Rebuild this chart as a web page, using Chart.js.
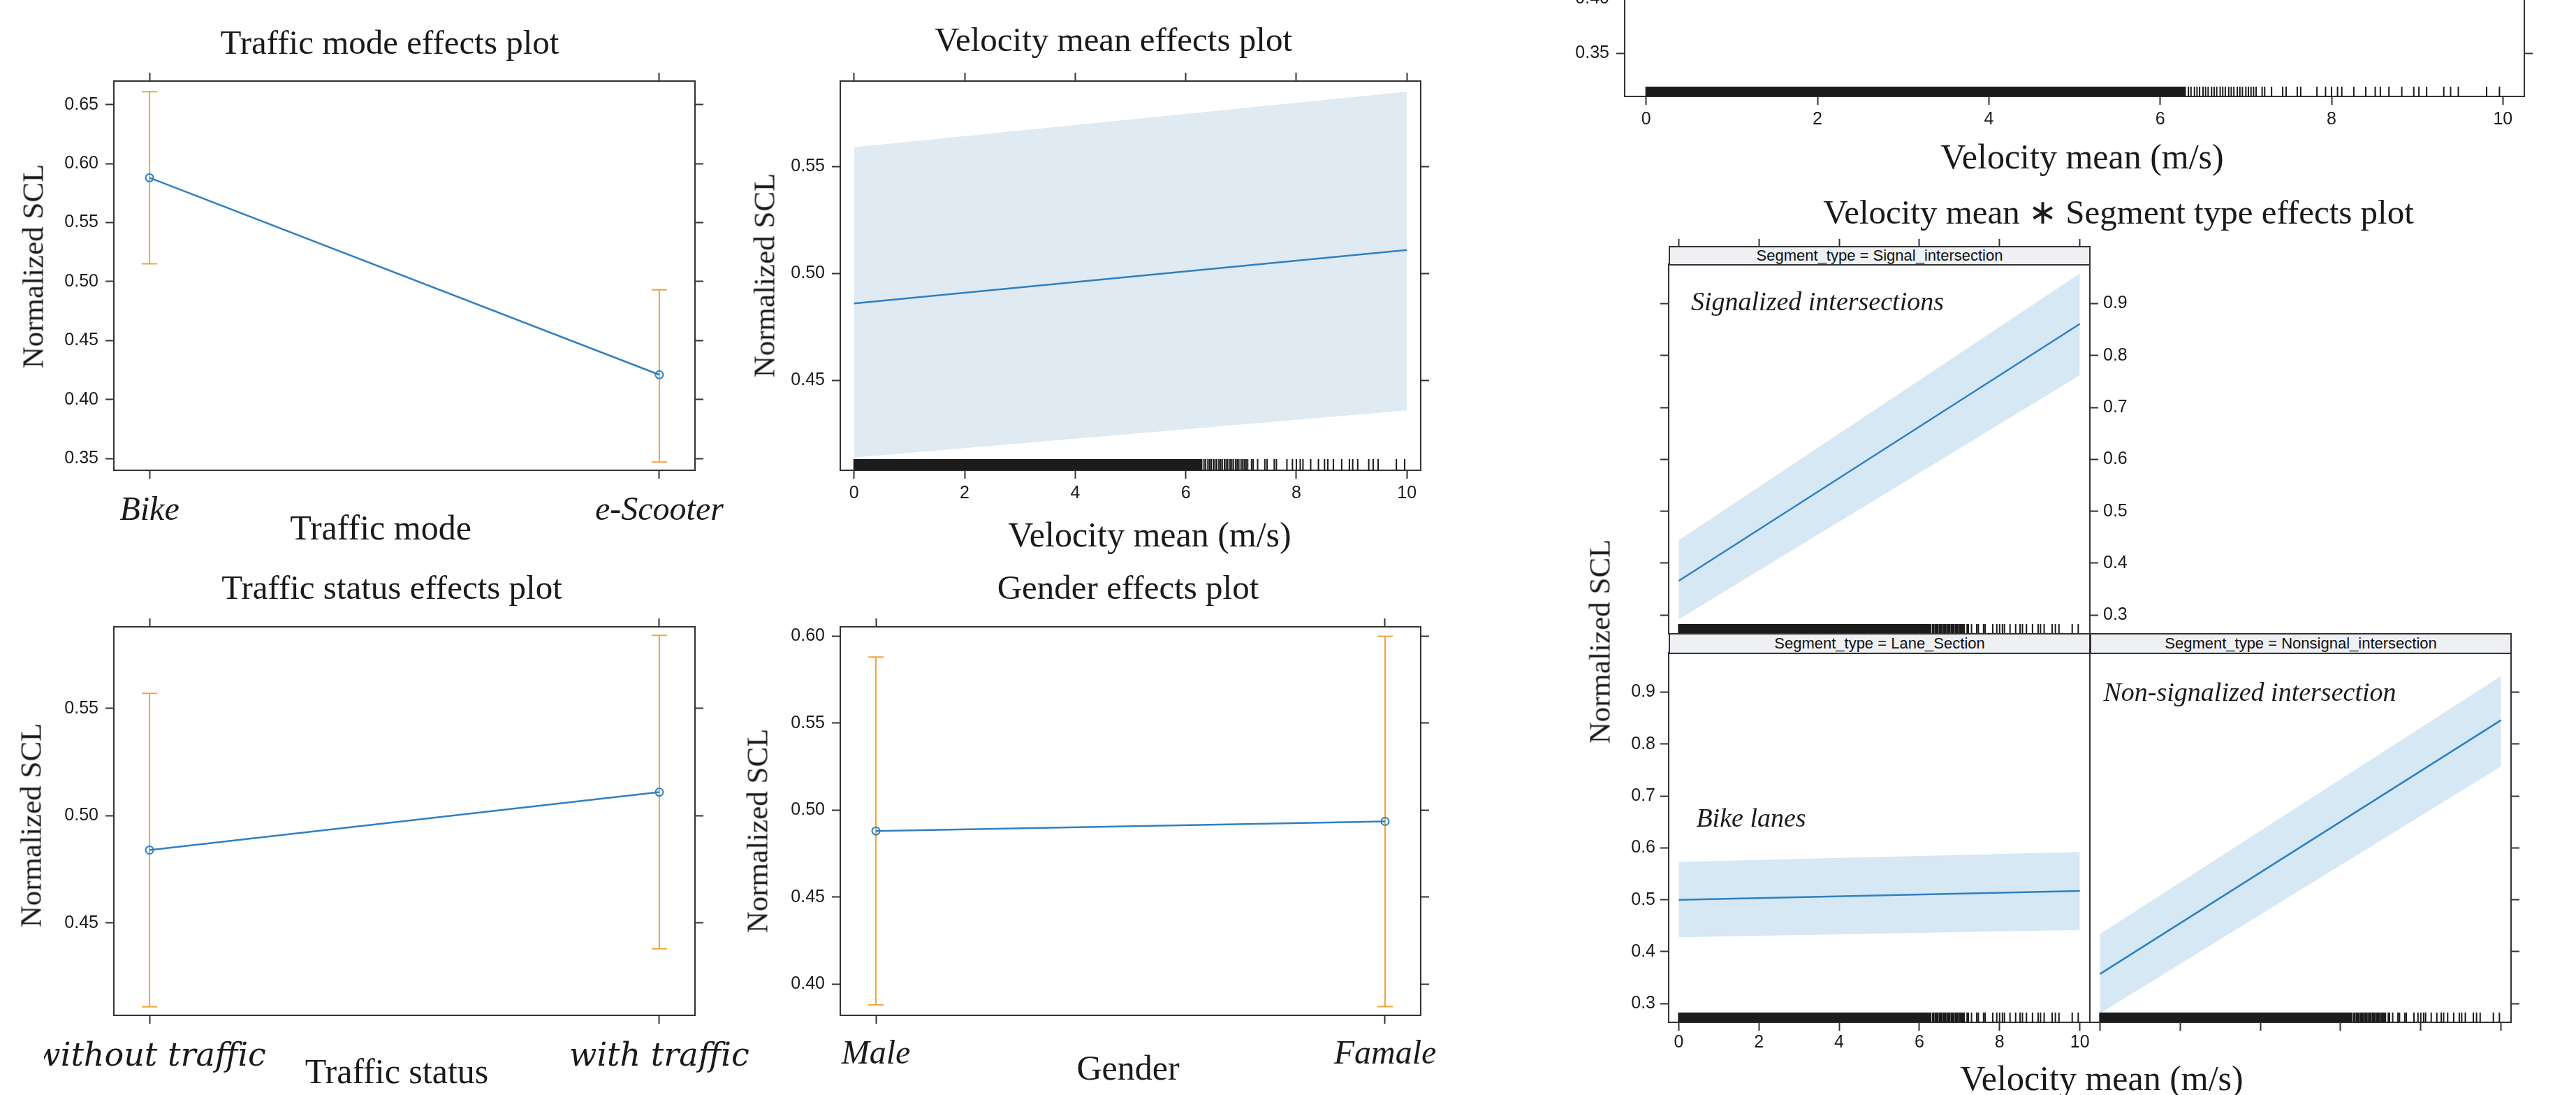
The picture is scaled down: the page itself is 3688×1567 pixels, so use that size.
<!DOCTYPE html>
<html>
<head>
<meta charset="utf-8">
<script src="https://cdn.jsdelivr.net/npm/chart.js@4.4.1/dist/chart.umd.min.js"></script>
<style>
  html, body { margin: 0; padding: 0; background: #fff; }
  body { width: 3688px; height: 1567px; position: relative; overflow: hidden; }
  canvas { position: absolute; z-index: 1; }
  .t { position: absolute; white-space: nowrap; line-height: 1; color: #1a1a1a;
       font-family: "Liberation Serif", "Times New Roman", serif; transform: translate(-50%, -50%); z-index: 3; }
  .v { transform: translate(-50%, -50%) rotate(-90deg); }
  .i { font-style: italic; }
  .strip { position: absolute; box-sizing: border-box; background: #eef0f3; border: 2px solid #333;
           font: 22px "Liberation Sans", Arial, sans-serif; text-align: center; color: #111; z-index: 2; }
</style>
</head>
<body>
<script>
// ---- data ----
const modeCats = ["Bike", "e-Scooter"];
const modeFit = [0.588, 0.421];
const modeLower = [0.515, 0.347];
const modeUpper = [0.661, 0.493];

const statusCats = ["without traffic", "with traffic"];
const statusFit = [0.484, 0.511];
const statusLower = [0.411, 0.438];
const statusUpper = [0.557, 0.584];

const genderCats = ["Male", "Famale"];
const genderFit = [0.488, 0.4935];
const genderLower = [0.388, 0.387];
const genderUpper = [0.588, 0.600];

const velocity = [0, 10];
const vmFit = [0.486, 0.511];
const vmLower = [0.414, 0.436];
const vmUpper = [0.559, 0.585];

const signalFit = [0.366, 0.861];
const signalLower = [0.292, 0.762];
const signalUpper = [0.444, 0.958];
const laneFit = [0.500, 0.517];
const laneLower = [0.428, 0.442];
const laneUpper = [0.573, 0.592];
const nonsignalFit = [0.357, 0.846];
const nonsignalLower = [0.281, 0.757];
const nonsignalUpper = [0.434, 0.931];

// rug of observed velocities: solid block, then single marks
const rugSolid = [0, 6.3];
const rugMarks = [6.33, 6.36, 6.4, 6.43, 6.46, 6.5, 6.53, 6.56, 6.6, 6.63, 6.66, 6.7, 6.73, 6.76,
  6.8, 6.83, 6.86, 6.9, 6.93, 6.96, 7.0, 7.03, 7.06, 7.09, 7.12, 7.19, 7.22, 7.3, 7.43, 7.47,
  7.6, 7.64, 7.83, 7.93, 8.0, 8.07, 8.12, 8.26, 8.4, 8.51, 8.57, 8.67, 8.82, 8.96, 9.02, 9.11,
  9.31, 9.39, 9.48, 9.81, 9.96];

const catTicks = [0, 1];
const velocityTicks = [0, 2, 4, 6, 8, 10];
const modeTicks = [0.35, 0.40, 0.45, 0.50, 0.55, 0.60, 0.65];
const vmTicks = [0.45, 0.50, 0.55];
const statusTicks = [0.45, 0.50, 0.55];
const genderTicks = [0.40, 0.45, 0.50, 0.55, 0.60];
const upperRightTicks = [0.35, 0.40, 0.45, 0.50, 0.55, 0.60];
const segTicks = [0.3, 0.4, 0.5, 0.6, 0.7, 0.8, 0.9];

// ---- styles ----
const FRAME = "#333333";
const INK = "#1a1a1a";
const BLUE = "#2f80c2";
const ORANGE = "#f2a43f";
const BAND_A = "#dfeaf3";
const BAND_B = "#d5e8f4";
const RUG = "#1c1c1c";
const SANS = { family: "Liberation Sans", size: 25 };
const ITAL = { family: "Liberation Serif", style: "italic", size: 48 };

const extrasPlugin = {
  id: "extras",
  beforeDatasetsDraw(chart, args, o) {
    if (!o.lo) return;
    const ctx = chart.ctx, xs = chart.scales.x, ys = chart.scales.y;
    ctx.save();
    ctx.strokeStyle = ORANGE;
    ctx.lineWidth = 2;
    o.lo.forEach((lo, i) => {
      const x = xs.getPixelForValue(i);
      const y0 = ys.getPixelForValue(lo), y1 = ys.getPixelForValue(o.hi[i]);
      ctx.beginPath();
      ctx.moveTo(x, y0); ctx.lineTo(x, y1);
      ctx.moveTo(x - 11, y0); ctx.lineTo(x + 11, y0);
      ctx.moveTo(x - 11, y1); ctx.lineTo(x + 11, y1);
      ctx.stroke();
    });
    ctx.restore();
  },
  afterDatasetsDraw(chart, args, o) {
    if (!o.rugHeight) return;
    const ctx = chart.ctx, xs = chart.scales.x, a = chart.chartArea;
    const top = a.bottom - o.rugHeight;
    ctx.save();
    ctx.fillStyle = RUG;
    const x0 = xs.getPixelForValue(rugSolid[0]), x1 = xs.getPixelForValue(rugSolid[1]);
    ctx.fillRect(x0 - 1, top, x1 - x0 + 1, o.rugHeight);
    ctx.strokeStyle = RUG;
    ctx.lineWidth = 2;
    ctx.beginPath();
    rugMarks.forEach(v => {
      const x = xs.getPixelForValue(v);
      ctx.moveTo(x, top); ctx.lineTo(x, a.bottom);
    });
    ctx.stroke();
    ctx.restore();
  }
};

function axis(pos, min, max, values, size, o = {}) {
  const horiz = pos === "top" || pos === "bottom";
  return {
    type: "linear", position: pos, min: min, max: max,
    afterBuildTicks: s => { s.ticks = values.map(v => ({ value: v })); },
    afterFit: s => {
      if (horiz) s.height = size; else s.width = size;
      s.paddingLeft = s.paddingRight = s.paddingTop = s.paddingBottom = 0;
    },
    border: { display: o.border !== false, color: FRAME, width: 2 },
    grid: { drawOnChartArea: false, drawTicks: !!o.ticks, tickLength: o.tickLen || 12,
            tickColor: FRAME, tickWidth: 2 },
    ticks: { display: !!o.labels, autoSkip: false, maxRotation: 0, minRotation: 0,
             padding: o.pad ?? 8, color: INK, font: o.font || SANS,
             callback: o.fmt || (v => v) }
  };
}

// box = [left, right, top, bottom] of the plot area, sz = [left, right, top, bottom] axis room
function panel(box, sz, datasets, scales, extras) {
  const c = document.createElement("canvas");
  const w = box[1] - box[0] + sz[0] + sz[1];
  const h = box[3] - box[2] + sz[2] + sz[3];
  c.width = w; c.height = h;
  c.style.width = w + "px"; c.style.height = h + "px";
  c.style.left = (box[0] - sz[0]) + "px";
  c.style.top = (box[2] - sz[2]) + "px";
  document.body.appendChild(c);
  return new Chart(c, {
    type: "line",
    data: { datasets: datasets },
    options: {
      responsive: false,
      animation: false,
      devicePixelRatio: 1,
      layout: { padding: 0 },
      elements: { line: { tension: 0 } },
      plugins: { legend: { display: false }, tooltip: { enabled: false }, extras: extras || {} },
      scales: scales
    },
    plugins: [extrasPlugin]
  });
}

const pts = (xs, ys) => ys.map((v, i) => ({ x: xs[i], y: v }));
const fitLine = data => ({ data: data, borderColor: BLUE, borderWidth: 2.5, pointRadius: 0, fill: false });
const catLine = data => ({ data: data, borderColor: BLUE, borderWidth: 2.5, pointRadius: 5.5,
  pointBorderWidth: 2, pointBorderColor: BLUE, pointBackgroundColor: "rgba(0,0,0,0)", fill: false });
const bandTop = (data, col) => ({ data: data, borderWidth: 0, pointRadius: 0, fill: "+1", backgroundColor: col });
const bandBot = data => ({ data: data, borderWidth: 0, pointRadius: 0, fill: false });
// Chart.js paints the first dataset last, so the fitted line goes first to sit on the band
const bandSet = (fit, lo, hi, col) => [fitLine(pts(velocity, fit)), bandTop(pts(velocity, hi), col), bandBot(pts(velocity, lo))];
const fmt2 = v => v.toFixed(2);
const fmt1 = v => v.toFixed(1);

// Traffic mode
panel([163, 995, 116, 673], [100, 60, 30, 100],
  [catLine(pts(catTicks, modeFit))],
  {
    x: axis("bottom", -0.07, 1.07, catTicks, 100, { ticks: true, labels: true, font: ITAL, pad: 18, fmt: v => modeCats[v] }),
    x2: axis("top", -0.07, 1.07, catTicks, 30, { ticks: true }),
    y: axis("left", 0.340, 0.670, modeTicks, 100, { ticks: true, labels: true, pad: 10, fmt: fmt2 }),
    y2: axis("right", 0.340, 0.670, modeTicks, 60, { ticks: true })
  },
  { lo: modeLower, hi: modeUpper });

// Velocity mean
panel([1203, 2034, 116, 673], [100, 40, 30, 60],
  bandSet(vmFit, vmLower, vmUpper, BAND_A),
  {
    x: axis("bottom", -0.25, 10.25, velocityTicks, 60, { ticks: true, labels: true, pad: 6 }),
    x2: axis("top", -0.25, 10.25, velocityTicks, 30, { ticks: true }),
    y: axis("left", 0.408, 0.590, vmTicks, 100, { ticks: true, labels: true, pad: 10, fmt: fmt2 }),
    y2: axis("right", 0.408, 0.590, vmTicks, 40, { ticks: true })
  },
  { rugHeight: 16 });

// Traffic status
panel([163, 995, 897, 1453], [100, 80, 30, 110],
  [catLine(pts(catTicks, statusFit))],
  {
    x: axis("bottom", -0.07, 1.07, catTicks, 110, { ticks: true, labels: true,
      font: { family: "DejaVu Serif", style: "italic", size: 46 }, pad: 20, fmt: v => statusCats[v] }),
    x2: axis("top", -0.07, 1.07, catTicks, 30, { ticks: true }),
    y: axis("left", 0.407, 0.588, statusTicks, 100, { ticks: true, labels: true, pad: 10, fmt: fmt2 }),
    y2: axis("right", 0.407, 0.588, statusTicks, 80, { ticks: true })
  },
  { lo: statusLower, hi: statusUpper });

// Gender
panel([1203, 2034, 897, 1453], [100, 60, 30, 100],
  [catLine(pts(catTicks, genderFit))],
  {
    x: axis("bottom", -0.07, 1.07, catTicks, 100, { ticks: true, labels: true, font: ITAL, pad: 16, fmt: v => genderCats[v] }),
    x2: axis("top", -0.07, 1.07, catTicks, 30, { ticks: true }),
    y: axis("left", 0.382, 0.6054, genderTicks, 100, { ticks: true, labels: true, pad: 10, fmt: fmt2 }),
    y2: axis("right", 0.382, 0.6054, genderTicks, 60, { ticks: true })
  },
  { lo: genderLower, hi: genderUpper });

// upper right panel (only its lower edge is in view)
panel([2326, 3614, -400, 138], [100, 40, 10, 60],
  [],
  {
    x: axis("bottom", -0.25, 10.25, velocityTicks, 60, { ticks: true, labels: true, pad: 6 }),
    x2: axis("top", -0.25, 10.25, velocityTicks, 10, {}),
    y: axis("left", 0.3108, 0.6535, upperRightTicks, 100, { ticks: true, labels: true, pad: 10, fmt: fmt2 }),
    y2: axis("right", 0.3108, 0.6535, upperRightTicks, 40, { ticks: true })
  },
  { rugHeight: 14 });

// Velocity mean * Segment type: Signal_intersection
panel([2389, 2992, 378, 907], [30, 80, 40, 4],
  bandSet(signalFit, signalLower, signalUpper, BAND_B),
  {
    x: axis("bottom", -0.25, 10.25, velocityTicks, 4, {}),
    x2: axis("top", -0.25, 10.25, velocityTicks, 40, { ticks: true, tickLen: 36 }),
    y: axis("left", 0.264, 0.976, segTicks, 30, { ticks: true }),
    y2: axis("right", 0.264, 0.976, segTicks, 80, { ticks: true, labels: true, pad: 7, fmt: fmt1 })
  },
  { rugHeight: 14 });

// Lane_Section
panel([2389, 2992, 934, 1463], [80, 2, 4, 60],
  bandSet(laneFit, laneLower, laneUpper, BAND_B),
  {
    x: axis("bottom", -0.25, 10.25, velocityTicks, 60, { ticks: true, labels: true, pad: 2 }),
    x2: axis("top", -0.25, 10.25, velocityTicks, 4, {}),
    y: axis("left", 0.264, 0.976, segTicks, 80, { ticks: true, labels: true, pad: 7, fmt: fmt1 }),
    y2: axis("right", 0.264, 0.976, segTicks, 2, {})
  },
  { rugHeight: 14 });

// Nonsignal_intersection
panel([2992, 3595, 934, 1463], [2, 30, 4, 30],
  bandSet(nonsignalFit, nonsignalLower, nonsignalUpper, BAND_B),
  {
    x: axis("bottom", -0.25, 10.25, velocityTicks, 30, { ticks: true }),
    x2: axis("top", -0.25, 10.25, velocityTicks, 4, {}),
    y: axis("left", 0.264, 0.976, segTicks, 2, {}),
    y2: axis("right", 0.264, 0.976, segTicks, 30, { ticks: true })
  },
  { rugHeight: 14 });

// ---- text ----
function text(str, x, y, size, cls) {
  const d = document.createElement("div");
  d.className = "t " + (cls || "");
  d.style.left = x + "px";
  d.style.top = y + "px";
  d.style.fontSize = size + "px";
  d.textContent = str;
  document.body.appendChild(d);
}
function strip(str, l, t, w, h) {
  const d = document.createElement("div");
  d.className = "strip";
  d.style.left = l + "px"; d.style.top = t + "px";
  d.style.width = w + "px"; d.style.height = h + "px";
  d.style.lineHeight = (h - 4) + "px";
  d.textContent = str;
  document.body.appendChild(d);
}

text("Traffic mode effects plot", 558, 60, 49);
text("Velocity mean effects plot", 1594, 56, 49);
text("Traffic status effects plot", 561, 840, 49);
text("Gender effects plot", 1615, 840, 49);
text("Velocity mean  \u2217 Segment type effects plot", 3033, 303, 49);

text("Traffic mode", 545, 755, 50);
text("Velocity mean (m/s)", 1646, 765, 50);
text("Traffic status", 568, 1533, 50);
text("Gender", 1615, 1528, 50);
text("Velocity mean (m/s)", 2981, 224, 50);
text("Velocity mean (m/s)", 3009, 1543, 50);

text("Normalized SCL", 47, 381, 43, "v");
text("Normalized SCL", 1094, 394, 43, "v");
text("Normalized SCL", 44, 1181, 43, "v");
text("Normalized SCL", 1084, 1189, 43, "v");
text("Normalized SCL", 2290, 918, 43, "v");

text("Signalized intersections", 2602, 431, 38, "i");
text("Bike lanes", 2507, 1170, 38, "i");
text("Non-signalized intersection", 3221, 990, 38, "i");

strip("Segment_type = Signal_intersection", 2389, 352, 604, 28);
strip("Segment_type = Lane_Section", 2389, 906, 604, 30);
strip("Segment_type = Nonsignal_intersection", 2992, 906, 604, 30);
</script>
</body>
</html>
